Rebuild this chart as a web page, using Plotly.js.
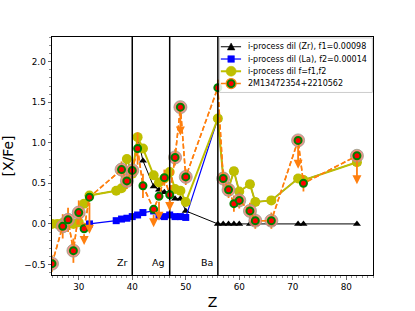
<!DOCTYPE html>
<html>
<head>
<meta charset="utf-8">
<script src="https://cdn.plot.ly/plotly-3.0.1.min.js"></script>
<style>html,body{margin:0;padding:0;background:#fff;}#chart{width:415px;height:311px;}</style>
</head>
<body>
<div id="chart"></div>
<script>
// ---- model: i-process dilution fitted on Zr (f1)
const zrZ   = [25,26,27,28,29,30,31,32,37,38,39,40,41,42,44,45,46,47,48,49,50,56,57,58,59,60,62,63,66,71,72,82];
const zrVal = [0.00,0.00,0.01,0.00,0.00,0.02,0.25,0.35,0.41,0.44,0.80,0.62,1.07,0.78,0.46,0.42,0.39,0.40,0.31,0.31,0.16,0.00,0.00,0.00,0.00,0.00,0.00,0.00,0.00,0.00,0.00,0.00];
// ---- model: i-process dilution fitted on La (f2)
const laZ   = [31,32,37,38,39,40,41,42,44,45,46,47,48,49,50,56,57,58,59,60,62,63,66,71,72,82];
const laVal = [-0.04,0.00,0.04,0.06,0.07,0.09,0.11,0.14,0.16,0.10,0.09,0.11,0.09,0.09,0.08,1.30,0.58,0.44,0.65,0.40,0.49,0.27,0.29,0.56,0.54,0.76];
// ---- model: combined f = f1, f2
const mixZ   = [25,26,27,28,29,30,31,32,37,38,39,40,41,42,44,45,46,47,48,49,50,56,57,58,59,60,62,63,66,71,72,82];
const mixVal = [0.00,0.00,0.01,0.00,0.00,0.02,0.25,0.35,0.41,0.44,0.80,0.62,1.07,0.93,0.60,0.51,0.56,0.64,0.43,0.41,0.27,1.30,0.58,0.44,0.65,0.40,0.49,0.27,0.29,0.56,0.54,0.76];
// ---- observed star 2M13472354+2210562
const obsZ     = [25,27,28,29,30,31,32,38,39,40,41,42,44,45,46,47,48,49,50,56,57,58,59,60,62,63,66,71,72,82];
const obsVal   = [-0.49,-0.03,0.05,-0.33,0.14,-0.06,0.33,0.67,0.53,0.66,0.93,0.47,0.18,0.34,0.57,0.36,0.82,1.44,0.58,1.68,0.56,0.42,0.25,0.29,0.16,0.04,0.04,1.03,0.50,0.84];
const obsErr   = [0.10,0.15,0.15,0.15,0.15,0.20,0.45,0.10,0.10,0.10,0.20,0.15,0.22,0.30,0.10,0.20,0.10,0.35,0.10,0.10,0.10,0.10,0.10,0.10,0.10,0.10,0.10,0.35,0.10,0.35];
const obsUpper = [0,0,0,0,0,1,1,0,0,0,0,0,1,1,0,1,0,1,0,0,0,0,0,0,0,0,0,1,0,1];
const obsHalo  = [1,1,1,1,1,0,0,1,1,1,0,0,0,0,0,0,1,1,1,0,1,1,0,1,1,1,1,1,0,1];
// ---- reference lines
const refZ     = [40,47,56];
const refLabel = ['Zr','Ag','Ba'];
// ---- legend labels
const seriesNames = ['i-process dil (Zr), f1=0.00098','i-process dil (La), f2=0.00014','i-process dil f=f1,f2','2M13472354+2210562'];

const ORANGE = '#ff7f0e', BLACK = '#000000', BLUE = '#0000ff', OLIVE = '#bfbf00', RED = '#ff0000', GREEN = '#008000';
const FONT = 'DejaVu Sans, sans-serif';
const DASH = '5px,2.5px';

const haloX = [], haloY = [];
obsZ.forEach((z,i)=>{ if(obsHalo[i]){ haloX.push(z); haloY.push(obsVal[i]); } });
const errs = obsErr.map((e,i)=> obsUpper[i] ? 0 : e);

const traces = [
  {x: zrZ, y: zrVal, mode:'lines+markers', name:seriesNames[0],
   line:{color:BLACK, width:1}, marker:{symbol:'triangle-up', size:7, color:BLACK}},
  {x: laZ, y: laVal, mode:'lines+markers', name:seriesNames[1],
   line:{color:BLUE, width:1.2}, marker:{symbol:'square', size:7, color:BLUE}},
  {x: mixZ, y: mixVal, mode:'lines+markers', name:seriesNames[2],
   line:{color:OLIVE, width:2}, marker:{symbol:'circle', size:10, color:OLIVE}},
  {x: obsZ, y: obsVal, mode:'lines', hoverinfo:'skip',
   line:{color:ORANGE, width:1.5, dash:DASH},
   error_y:{type:'data', array:errs, arrayminus:errs, color:ORANGE, thickness:1.8, width:0}},
  {x: haloX, y: haloY, mode:'markers', hoverinfo:'skip',
   marker:{symbol:'circle', size:13, color:'rgba(240,128,118,0.85)', line:{color:'rgba(150,160,140,0.8)', width:1}}},
  {x: obsZ, y: obsVal, mode:'lines+markers', name:seriesNames[3],
   line:{color:ORANGE, width:1.5, dash:DASH},
   marker:{symbol:'circle', size:7, color:RED, line:{color:GREEN, width:2}}}
];

const shapes = refZ.map(z=>({type:'line', xref:'x', yref:'paper', x0:z, x1:z, y0:0, y1:1,
  line:{color:BLACK, width:1.5}}));

const annotations = refZ.map((z,i)=>({x:z-0.5, y:-0.47, xref:'x', yref:'y', text:refLabel[i],
  showarrow:false, xanchor:'right', yanchor:'middle', font:{family:FONT, size:9.5, color:'#000'}}));
obsZ.forEach((z,i)=>{
  if(obsUpper[i]){
    annotations.push({x:z, y:obsVal[i]-obsErr[i], ax:z, ay:obsVal[i], xref:'x', yref:'y', axref:'x', ayref:'y',
      text:'', showarrow:true, arrowhead:2, arrowsize:1, arrowwidth:1.8, arrowcolor:ORANGE, startstandoff:4});
  }
});

// ---- legend (matplotlib style, compact)
const LG = {x0:0.522, x1:0.998, y0:0.767, y1:0.996, top:0.959, step:0.0515, lx0:0.526, lx1:0.589, mx:0.558, tx:0.604};
shapes.push({type:'rect', xref:'paper', yref:'paper', x0:LG.x0, x1:LG.x1, y0:LG.y0, y1:LG.y1,
  fillcolor:'rgba(255,255,255,0.85)', line:{color:'#cccccc', width:1}, layer:'above'});
const legendLine = [{color:BLACK,width:1},{color:BLUE,width:1.2},{color:OLIVE,width:2},{color:ORANGE,width:1.5,dash:DASH}];
seriesNames.forEach((name,i)=>{
  const yy = LG.top - i*LG.step;
  shapes.push({type:'line', xref:'paper', yref:'paper', x0:LG.lx0, x1:LG.lx1, y0:yy, y1:yy, line:legendLine[i], layer:'above'});
  const pix = {xref:'paper', yref:'paper', xsizemode:'pixel', ysizemode:'pixel', xanchor:LG.mx, yanchor:yy, layer:'above'};
  if(i===0) shapes.push(Object.assign({type:'path', path:'M-3.8,-3.2L3.8,-3.2L0,3.8Z', fillcolor:BLACK, line:{color:BLACK,width:0.5}}, pix));
  if(i===1) shapes.push(Object.assign({type:'rect', x0:-3.3, x1:3.3, y0:-3.3, y1:3.3, fillcolor:BLUE, line:{color:BLUE,width:0.5}}, pix));
  if(i===2) shapes.push(Object.assign({type:'circle', x0:-5, x1:5, y0:-5, y1:5, fillcolor:OLIVE, line:{color:OLIVE,width:0.5}}, pix));
  if(i===3){
    shapes.push(Object.assign({type:'circle', x0:-5, x1:5, y0:-5, y1:5, fillcolor:GREEN, line:{color:ORANGE,width:1.2}}, pix));
    shapes.push(Object.assign({type:'circle', x0:-2.4, x1:2.4, y0:-2.4, y1:2.4, fillcolor:RED, line:{color:RED,width:0.3}}, pix));
  }
  annotations.push({x:LG.tx, y:yy, xref:'paper', yref:'paper', text:name, showarrow:false,
    xanchor:'left', yanchor:'middle', font:{family:FONT, size:8, color:'#000'}});
});

const layout = {
  width:415, height:311,
  margin:{l:52, r:42, t:37, b:36, pad:0},
  paper_bgcolor:'#ffffff', plot_bgcolor:'#ffffff',
  font:{family:FONT, size:9, color:'#000'},
  showlegend:false,
  xaxis:{range:[25,85], tickmode:'linear', tick0:0, dtick:10, ticks:'outside', ticklen:3.5, tickwidth:0.8,
    minor:{dtick:1, ticks:'outside', ticklen:2, tickwidth:0.6},
    showline:true, mirror:true, linecolor:'#000', linewidth:1, showgrid:false, zeroline:false,
    tickfont:{family:FONT, size:8.8}, title:{text:'Z', font:{family:FONT, size:14}, standoff:6}},
  yaxis:{range:[-0.63,2.305], tickmode:'linear', tick0:0, dtick:0.5, tickformat:'.1f', ticks:'outside', ticklen:3.5, tickwidth:0.8,
    minor:{dtick:0.1, ticks:'outside', ticklen:2, tickwidth:0.6},
    showline:true, mirror:true, linecolor:'#000', linewidth:1, showgrid:false, zeroline:false,
    tickfont:{family:FONT, size:8.8}, title:{text:'[X/Fe]', font:{family:FONT, size:14}, standoff:8}},
  shapes: shapes,
  annotations: annotations
};

Plotly.newPlot('chart', traces, layout, {staticPlot:true, displayModeBar:false});
</script>
</body>
</html>
